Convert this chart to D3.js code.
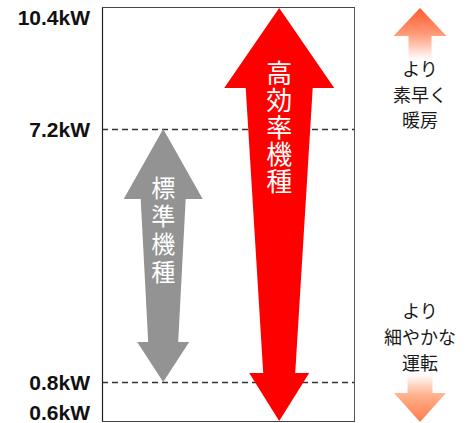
<!DOCTYPE html>
<html>
<head>
<meta charset="utf-8">
<script src="https://cdn.jsdelivr.net/npm/d3@7/dist/d3.min.js"></script>
<style>
  html, body { margin: 0; padding: 0; background: #fff; }
  svg { display: block; }
</style>
</head>
<body>
<svg id="chart" width="472" height="423"></svg>
<script>
// Output ranges (kW) of the two heater classes
const models = ["標準機種", "高効率機種"];
const minKW = [0.8, 0.6];
const maxKW = [7.2, 10.4];
const arrowColors = ["#939393", "#ff0000"];

// Tick labels on the left axis, and which of them get a dashed guide
const tickValues = [10.4, 7.2, 0.8, 0.6];
const tickLabels = ["10.4kW", "7.2kW", "0.8kW", "0.6kW"];
const dashedValues = [7.2, 0.8];

// Side captions
const upCaption = ["より", "素早く", "暖房"];
const downCaption = ["より", "細やかな", "運転"];

const svg = d3.select("#chart");
const frame = { left: 102, right: 354, top: 7.5, bottom: 421.5 };

// Schematic (piecewise) vertical scale
const y = d3.scaleLinear()
  .domain([0.6, 0.8, 7.2, 10.4])
  .range([421, 382, 129, 8]);

const x = d3.scalePoint()
  .domain(models)
  .range([frame.left, frame.right])
  .padding(0.586)
  .align(0.45);

// Dashed guides
svg.append("g").selectAll("line")
  .data(dashedValues)
  .join("line")
  .attr("x1", frame.left).attr("x2", frame.right)
  .attr("y1", d => Math.round(y(d)) + 0.5).attr("y2", d => Math.round(y(d)) + 0.5)
  .attr("stroke", "#333")
  .attr("stroke-width", 1.5)
  .attr("stroke-dasharray", "6,4");

// Frame
const fr = svg.append("g").attr("fill", "none");
fr.append("line").attr("x1", frame.left + 0.5).attr("x2", frame.left + 0.5)
  .attr("y1", frame.top).attr("y2", frame.bottom).attr("stroke", "#222").attr("stroke-width", 1.2);
fr.append("line").attr("x1", frame.right + 0.5).attr("x2", frame.right + 0.5)
  .attr("y1", frame.top).attr("y2", frame.bottom).attr("stroke", "#555").attr("stroke-width", 1);
fr.append("line").attr("x1", frame.left).attr("x2", frame.right + 1)
  .attr("y1", frame.top).attr("y2", frame.top).attr("stroke", "#444").attr("stroke-width", 1);
fr.append("line").attr("x1", frame.left).attr("x2", frame.right + 1)
  .attr("y1", frame.bottom).attr("y2", frame.bottom).attr("stroke", "#444").attr("stroke-width", 1);

// Double-headed tapered arrow shape
// hw: top head half width, hl: top head length, sTop/sBot: shaft half widths,
// bw: bottom head half width, bl: bottom head length
function doubleArrow(cx, yTop, yBot, s) {
  const p = [
    [cx, yTop],
    [cx + s.hw, yTop + s.hl],
    [cx + s.sTop, yTop + s.hl],
    [cx + s.sBot, yBot - s.bl],
    [cx + s.bw, yBot - s.bl],
    [cx, yBot],
    [cx - s.bw, yBot - s.bl],
    [cx - s.sBot, yBot - s.bl],
    [cx - s.sTop, yTop + s.hl],
    [cx - s.hw, yTop + s.hl]
  ];
  return d3.line()(p) + "Z";
}

const shapes = [
  { hw: 39.5, hl: 70, sTop: 22.5, sBot: 15, bw: 26, bl: 40, textTop: 47, spacing: 4, size: 24 },
  { hw: 55, hl: 80, sTop: 33.5, sBot: 16, bw: 30, bl: 48, textTop: 52, spacing: 1, size: 26 }
];

models.forEach((m, i) => {
  const cx = x(m);
  const yt = y(maxKW[i]);
  const yb = y(minKW[i]);
  const s = shapes[i];
  svg.append("path")
    .attr("d", doubleArrow(cx, yt, yb, s))
    .attr("fill", arrowColors[i]);
  // model name, set vertically inside the shaft
  svg.append("text")
    .attr("x", cx)
    .attr("y", yt + s.textTop)
    .style("writing-mode", "vertical-rl")
    .style("text-orientation", "upright")
    .attr("letter-spacing", s.spacing)
    .attr("font-family", "'Noto Sans CJK JP', sans-serif")
    .attr("font-size", s.size)
    .attr("fill", "#fff")
    .text(m);
});

// Axis labels
svg.append("g").selectAll("text")
  .data(tickValues)
  .join("text")
  .attr("x", 90)
  .attr("y", d => Math.min(Math.max(y(d), 17.5), 412.5))
  .attr("text-anchor", "end")
  .attr("dominant-baseline", "central")
  .attr("font-family", "'Liberation Sans', Arial, sans-serif")
  .attr("font-weight", "bold")
  .attr("font-size", 21)
  .attr("fill", "#111")
  .text((d, i) => tickLabels[i]);

// Side gradient arrows
const defs = svg.append("defs");
const gUp = defs.append("linearGradient").attr("id", "gradUp")
  .attr("x1", 0).attr("y1", 0).attr("x2", 0).attr("y2", 1);
gUp.append("stop").attr("offset", "0%").attr("stop-color", "#ff5a2c");
gUp.append("stop").attr("offset", "50%").attr("stop-color", "#ff9a78");
gUp.append("stop").attr("offset", "100%").attr("stop-color", "#ffffff");
const gDn = defs.append("linearGradient").attr("id", "gradDown")
  .attr("x1", 0).attr("y1", 0).attr("x2", 0).attr("y2", 1);
gDn.append("stop").attr("offset", "0%").attr("stop-color", "#ffffff");
gDn.append("stop").attr("offset", "45%").attr("stop-color", "#ffb08c");
gDn.append("stop").attr("offset", "100%").attr("stop-color", "#ff7c48");

const sideX = 420;
function singleArrow(cx, tipY, baseY, endY, hw, sw) {
  return d3.line()([
    [cx, tipY], [cx + hw, baseY], [cx + sw, baseY], [cx + sw, endY],
    [cx - sw, endY], [cx - sw, baseY], [cx - hw, baseY]
  ]) + "Z";
}
svg.append("path").attr("d", singleArrow(sideX, 8, 36, 60, 26.5, 11.5)).attr("fill", "url(#gradUp)");
svg.append("path").attr("d", singleArrow(sideX, 422, 393, 374, 26, 12.5)).attr("fill", "url(#gradDown)");

function caption(lines, y0, step) {
  svg.append("g").selectAll("text")
    .data(lines)
    .join("text")
    .attr("x", sideX)
    .attr("y", (d, i) => y0 + i * step)
    .attr("text-anchor", "middle")
    .attr("dominant-baseline", "central")
    .attr("font-family", "'Noto Sans CJK JP', sans-serif")
    .attr("font-size", 18)
    .attr("fill", "#1a1a1a")
    .text(d => d);
}
caption(upCaption, 68, 25.5);
caption(downCaption, 310, 26);
</script>
</body>
</html>
